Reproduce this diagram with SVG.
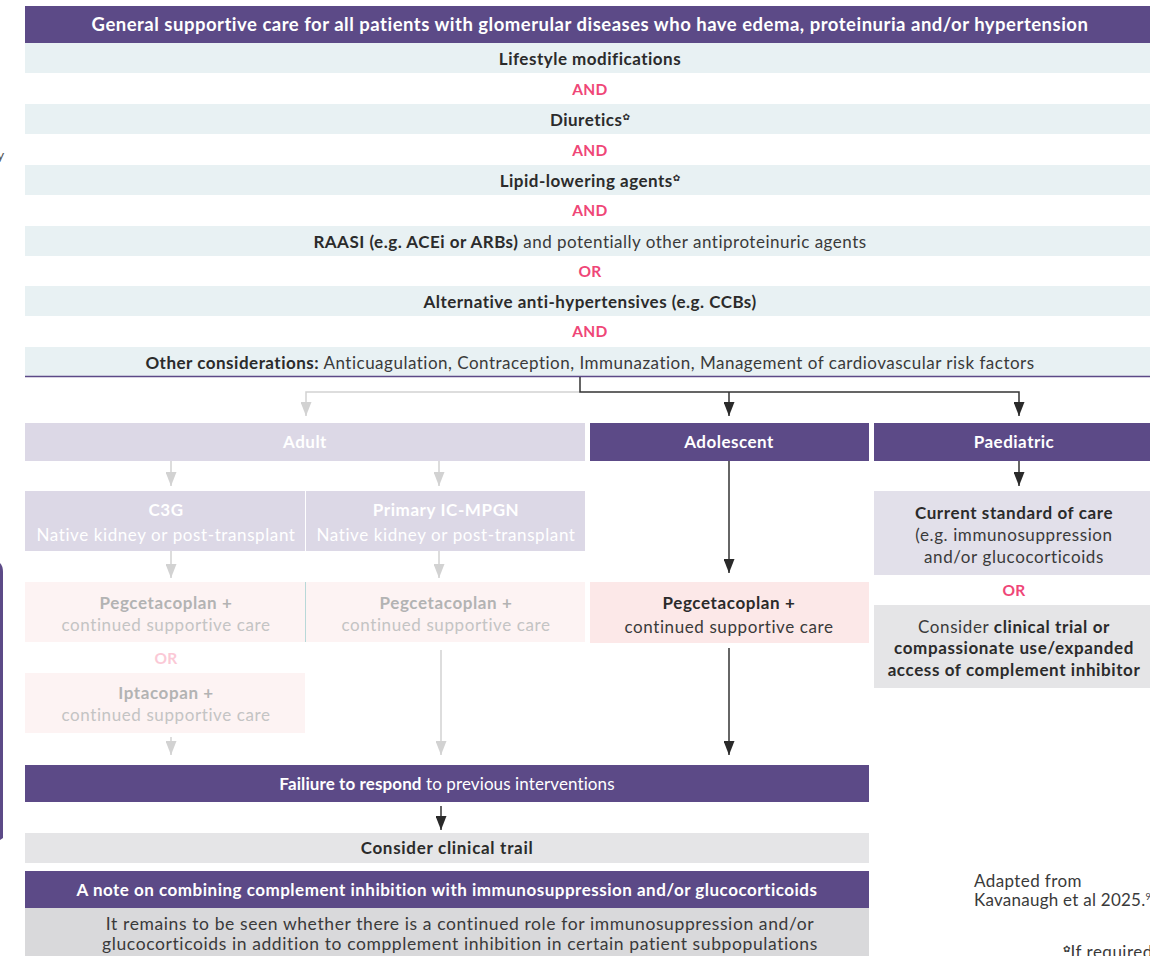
<svg xmlns="http://www.w3.org/2000/svg" width="1150" height="956" viewBox="0 0 1150 956">
<defs>
<style>
text{font-family:Lato,"Liberation Sans","DejaVu Sans",sans-serif;text-anchor:middle;}
.hd{fill:#fff;font-weight:700;font-size:18.5px;letter-spacing:0.5px;}
.row{fill:#e8f1f3;}
.rt{fill:#2b2b2b;font-weight:700;font-size:17px;letter-spacing:0.5px;}
.rn{fill:#3a3a3a;font-weight:400;}
.and{fill:#ef4677;font-weight:700;font-size:15.5px;letter-spacing:0.3px;}
.pur{fill:#5c4a87;}
.wb{fill:#fff;font-weight:700;font-size:17px;letter-spacing:0.5px;}
.fb{fill:#fff;font-weight:700;font-size:17px;letter-spacing:0.6px;}
.fn{fill:#fff;font-weight:400;font-size:17px;letter-spacing:0.6px;}
.gb{fill:#b3b3b3;font-weight:700;font-size:17px;letter-spacing:0.6px;}
.gn{fill:#c4c4c4;font-weight:400;font-size:17px;letter-spacing:0.6px;}
.db{fill:#2b2b2b;font-weight:700;font-size:17px;letter-spacing:0.6px;}
.dn{fill:#3a3a3a;font-weight:400;font-size:17px;letter-spacing:0.6px;}
.sup{font-family:"DejaVu Sans",sans-serif;font-size:9px;font-weight:400;letter-spacing:0;}
.gl{stroke:#d2d2d2;stroke-width:1.5;fill:none;}
.dl{stroke:#333;stroke-width:1.5;fill:none;}
</style>
<marker id="ag" markerWidth="14" markerHeight="11" refX="14" refY="5.5" orient="auto" markerUnits="userSpaceOnUse" viewBox="0 0 14 11"><path d="M0,0 L14,5.5 L0,11 Z" fill="#d2d2d2"/></marker>
<marker id="ad" markerWidth="14" markerHeight="11" refX="14" refY="5.5" orient="auto" markerUnits="userSpaceOnUse" viewBox="0 0 14 11"><path d="M0,0 L14,5.5 L0,11 Z" fill="#2a2a2a"/></marker>
</defs>
<rect width="1150" height="956" fill="#fff"/>

<!-- edge fragments -->
<text x="-3" y="160" style="font-size:14px;fill:#555;text-anchor:start">y</text>
<path d="M0,563 Q3,566 3,572 L3,838 L0,840 Z" fill="#5c4a87"/>

<g id="header">
<rect x="25" y="6" width="1125" height="37" class="pur"/>
<text x="590" y="31" class="hd">General supportive care for all patients with glomerular diseases who have edema, proteinuria and/or hypertension</text>
</g>
<g id="lifestyle"><rect x="25" y="43" width="1125" height="30" class="row"/><text x="590" y="65" class="rt">Lifestyle modifications</text></g>
<text x="590" y="95" class="and">AND</text>
<g id="diuretics"><rect x="25" y="104" width="1125" height="30" class="row"/><text x="590" y="126" class="rt">Diuretics<tspan class="sup" dy="-6">✿</tspan></text></g>
<text x="590" y="156" class="and">AND</text>
<g id="lipid"><rect x="25" y="165" width="1125" height="30" class="row"/><text x="590" y="187" class="rt">Lipid-lowering agents<tspan class="sup" dy="-6">✿</tspan></text></g>
<text x="590" y="216" class="and">AND</text>
<g id="raasi"><rect x="25" y="226" width="1125" height="30" class="row"/><text x="590" y="248" class="rt">RAASI (e.g. ACEi or ARBs)<tspan class="rn"> and potentially other antiproteinuric agents</tspan></text></g>
<text x="590" y="277" class="and">OR</text>
<g id="alt"><rect x="25" y="286" width="1125" height="30" class="row"/><text x="590" y="308" class="rt">Alternative anti-hypertensives (e.g. CCBs)</text></g>
<text x="590" y="337" class="and">AND</text>
<g id="other"><rect x="25" y="347" width="1125" height="30" class="row"/><line x1="25" y1="376.5" x2="1150" y2="376.5" stroke="#5c4a87" stroke-width="1.5"/><text x="590" y="369" class="rt">Other considerations:<tspan class="rn"> Anticuagulation, Contraception, Immunazation, Management of cardiovascular risk factors</tspan></text></g>

<g id="connectors">
<path class="gl" d="M580,392 L306,392 L306,416" marker-end="url(#ag)"/>
<path class="dl" d="M580,377 L580,392 L1019,392 L1019,416" marker-end="url(#ad)"/>
<path class="dl" d="M729,392 L729,416" marker-end="url(#ad)"/>
<path class="gl" d="M171,461 L171,486" marker-end="url(#ag)"/>
<path class="gl" d="M439,461 L439,486" marker-end="url(#ag)"/>
<path class="gl" d="M171,551 L171,578" marker-end="url(#ag)"/>
<path class="gl" d="M439,551 L439,578" marker-end="url(#ag)"/>
<path class="gl" d="M171,737 L171,755" marker-end="url(#ag)"/>
<path class="gl" d="M441,650 L441,755" marker-end="url(#ag)"/>
<path class="dl" d="M729,461 L729,573" marker-end="url(#ad)"/>
<path class="dl" d="M729,648 L729,755" marker-end="url(#ad)"/>
<path class="dl" d="M1019,461 L1019,486" marker-end="url(#ad)"/>
<path class="dl" d="M441,806 L441,830" marker-end="url(#ad)"/>
</g>

<g id="adult"><rect x="25" y="423" width="560" height="38" fill="#dcd8e6"/><text x="305" y="448" class="wb">Adult</text></g>
<g id="adolescent"><rect x="590" y="423" width="279" height="38" class="pur"/><text x="729" y="448" class="wb">Adolescent</text></g>
<g id="paediatric"><rect x="874" y="423" width="276" height="38" class="pur"/><text x="1014" y="448" class="wb">Paediatric</text></g>

<g id="c3g"><rect x="25" y="491" width="280" height="60" fill="#dcd8e6"/><text x="166" y="516" class="fb">C3G</text><text x="166" y="541" class="fn">Native kidney or post-transplant</text></g>
<g id="icmpgn"><rect x="306" y="491" width="279" height="60" fill="#dcd8e6"/><text x="446" y="516" class="fb">Primary IC-MPGN</text><text x="446" y="541" class="fn">Native kidney or post-transplant</text></g>

<g id="peg-c3g"><rect x="25" y="582" width="280" height="60" fill="#fdf3f3"/><text x="166" y="609" class="gb">Pegcetacoplan +</text><text x="166" y="631" class="gn">continued supportive care</text></g>
<line x1="305.5" y1="582" x2="305.5" y2="642" stroke="#b8d8d8" stroke-width="1"/>
<g id="peg-ic"><rect x="306" y="582" width="279" height="60" fill="#fdf3f3"/><text x="446" y="609" class="gb">Pegcetacoplan +</text><text x="446" y="631" class="gn">continued supportive care</text></g>
<text x="166" y="664" style="fill:#fbc9d6;font-weight:700;font-size:15.5px;letter-spacing:0.3px">OR</text>
<g id="iptacopan"><rect x="25" y="673" width="280" height="60" fill="#fdf3f3"/><text x="166" y="699" class="gb">Iptacopan +</text><text x="166" y="721" class="gn">continued supportive care</text></g>

<g id="peg-adol"><rect x="590" y="582" width="279" height="61" fill="#fce8e8"/><text x="729" y="609" class="db">Pegcetacoplan +</text><text x="729" y="633" class="dn">continued supportive care</text></g>

<g id="standard"><rect x="874" y="491" width="276" height="84" fill="#e2e0ea"/><text x="1014" y="519" class="db">Current standard of care</text><text x="1014" y="541" class="dn">(e.g. immunosuppression</text><text x="1014" y="563" class="dn">and/or glucocorticoids</text></g>
<text x="1014" y="596" class="and">OR</text>
<g id="trial"><rect x="874" y="605" width="276" height="83" fill="#e5e5e7"/><text x="1014" y="633" class="dn">Consider <tspan class="db">clinical trial or</tspan></text><text x="1014" y="654" class="db">compassionate use/expanded</text><text x="1014" y="676" class="db">access of complement inhibitor</text></g>

<g id="failure"><rect x="25" y="765" width="844" height="37" class="pur"/><text x="447" y="790" style="fill:#fff;font-weight:700;font-size:17px;letter-spacing:0.1px">Failiure to respond<tspan style="font-weight:400"> to previous interventions</tspan></text></g>
<g id="consider"><rect x="25" y="833" width="844" height="30" fill="#e5e5e7"/><text x="447" y="854" class="rt" style="letter-spacing:0.7px">Consider clinical trail</text></g>
<g id="note"><rect x="25" y="871" width="844" height="37" class="pur"/><text x="447" y="896" class="hd" style="font-size:17px">A note on combining complement inhibition with immunosuppression and/or glucocorticoids</text>
<rect x="25" y="908" width="844" height="48" fill="#d9d9db"/><text x="460" y="930" class="dn" style="font-size:17.5px">It remains to be seen whether there is a continued role for immunosuppression and/or</text><text x="460" y="950" class="dn" style="font-size:17.5px">glucocorticoids in addition to compplement inhibition in certain patient subpopulations</text></g>

<g id="footer">
<text x="974" y="887" style="text-anchor:start;fill:#3a3a3a;font-size:17px;letter-spacing:0.4px">Adapted from</text>
<text x="974" y="906" style="text-anchor:start;fill:#3a3a3a;font-size:17px;letter-spacing:0.25px">Kavanaugh et al 2025.<tspan style="font-size:9px" dy="-6">9</tspan></text>
<text x="1063" y="958" style="text-anchor:start;fill:#3a3a3a;font-size:17px;letter-spacing:0.5px"><tspan class="sup" dy="-6">✿</tspan><tspan dy="6">If required</tspan></text>
</g>
</svg>
